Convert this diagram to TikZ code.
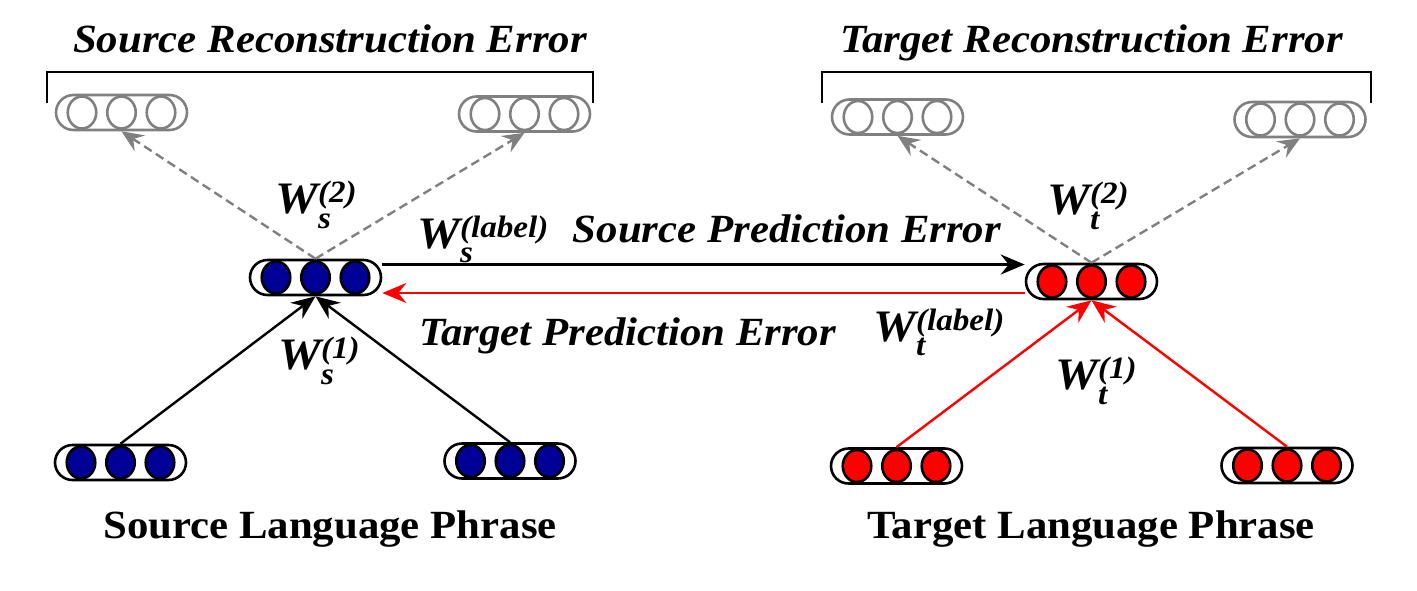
\documentclass[tikz,border=0pt]{standalone}
\usepackage{fontspec}
\setmainfont[FakeStretch=1.07]{Liberation Serif}
\usetikzlibrary{shapes.geometric,arrows.meta,calc}
\definecolor{navy}{RGB}{0,0,150}
\definecolor{lgray}{RGB}{128,128,128}
\newcommand{\vecnode}[4]{%
  \node[vbx, draw=#4] (#1) at #2 {};
  \foreach \dx/\k in {-39.5/a,0/b,39.5/c}
    \node[vcirc, draw=#4, fill=#3] (#1\k) at ($(#1.center)+(\dx,0)$) {};
}
\newcommand{\wlab}[4]{W\rlap{\raisebox{#3pt}{\fontsize{31}{31}\selectfont(#2)}}\raisebox{-#4pt}{\fontsize{31}{31}\selectfont #1}}
\begin{document}
\begin{tikzpicture}[x=1pt,y=-1pt,
  vbx/.style={rectangle, rounded corners=17.5pt, minimum width=131pt, minimum height=35pt, inner sep=0pt, line width=2.6pt},
  vcirc/.style={ellipse, minimum width=28.5pt, minimum height=32pt, inner sep=0pt, line width=2.6pt},
  ttl/.style={font=\fontsize{40}{40}\selectfont\bfseries\itshape, inner sep=0pt, anchor=base},
  phr/.style={font=\fontsize{40}{40}\selectfont\bfseries, inner sep=0pt, anchor=base},
  wl/.style={font=\fontsize{45}{45}\selectfont\bfseries\itshape, inner sep=0pt, anchor=base west},
  dash arrow/.style={lgray, line width=2.4pt, dash pattern=on 9pt off 5pt, -{Stealth[length=22pt,width=19pt,inset=8pt]}},
  solid arrow/.style={line width=2.4pt, -{Stealth[length=24pt,width=20pt,inset=8pt]}},
  brk/.style={line width=2.6pt}
]
\useasboundingbox (0,0) rectangle (1417,590);

% vector boxes
\vecnode{SGa}{(121.5,112.5)}{white}{lgray}
\vecnode{SGb}{(524.5,114)}{white}{lgray}
\vecnode{SM}{(315.5,277.5)}{navy}{black}
\vecnode{SBa}{(120.5,462.5)}{navy}{black}
\vecnode{SBb}{(510,461)}{navy}{black}
\vecnode{TGa}{(897.5,117)}{white}{lgray}
\vecnode{TGb}{(1300,119.5)}{white}{lgray}
\vecnode{TM}{(1091.5,281.5)}{red}{black}
\vecnode{TBa}{(896.5,466)}{red}{black}
\vecnode{TBb}{(1287,465.5)}{red}{black}

% brackets
\draw[brk] (47,103) -- (47,72) -- (593,72) -- (593,103);
\draw[brk] (822,103) -- (822,72) -- (1371,72) -- (1371,103);

% titles
\node[ttl] (srt) at (330,52) {Source Reconstruction Error};
\node[ttl] (trt) at (1091.5,52) {Target Reconstruction Error};
\node[ttl] (spe) at (787,242) {Source Prediction Error};
\node[ttl] (tpe) at (627.5,345) {Target Prediction Error};
\node[phr] (slp) at (330,538) {Source Language Phrase};
\node[phr] (tlp) at (1091,538) {Target Language Phrase};

% weight labels
\node[wl] (ws2) at (275,213) {\wlab{s}{2}{11}{15}};
\node[wl] (wsl) at (417,248) {\wlab{s}{label}{11}{14}};
\node[wl] (ws1) at (278,369) {\wlab{s}{1}{11}{15}};
\node[wl] (wt2) at (1047,214) {\wlab{t}{2}{11}{15}};
\node[wl] (wtl) at (873,341) {\wlab{t}{label}{11}{14}};
\node[wl] (wt1) at (1055,389) {\wlab{t}{1}{11}{15}};

% reconstruction arrows
\draw[dash arrow] (SM.north) -- (SGa.south);
\draw[dash arrow] (SM.north) -- (SGb.south);
\draw[dash arrow] (TM.north) -- (TGa.south);
\draw[dash arrow] (TM.north) -- (TGb.south);

% composition arrows
\draw[solid arrow] (SBa.north) -- (SM.south);
\draw[solid arrow] (SBb.north) -- (SM.south);
\draw[solid arrow, red] (TBa.north) -- (TM.south);
\draw[solid arrow, red] (TBb.north) -- (TM.south);

% prediction arrows
\draw[solid arrow] ([yshift=13pt]SM.east) -- ([yshift=13pt]SM.east -| TM.west);
\draw[solid arrow, red] ([yshift=-11.5pt]TM.west) -- ([yshift=-11.5pt]TM.west -| SM.east);
\end{tikzpicture}
\end{document}
